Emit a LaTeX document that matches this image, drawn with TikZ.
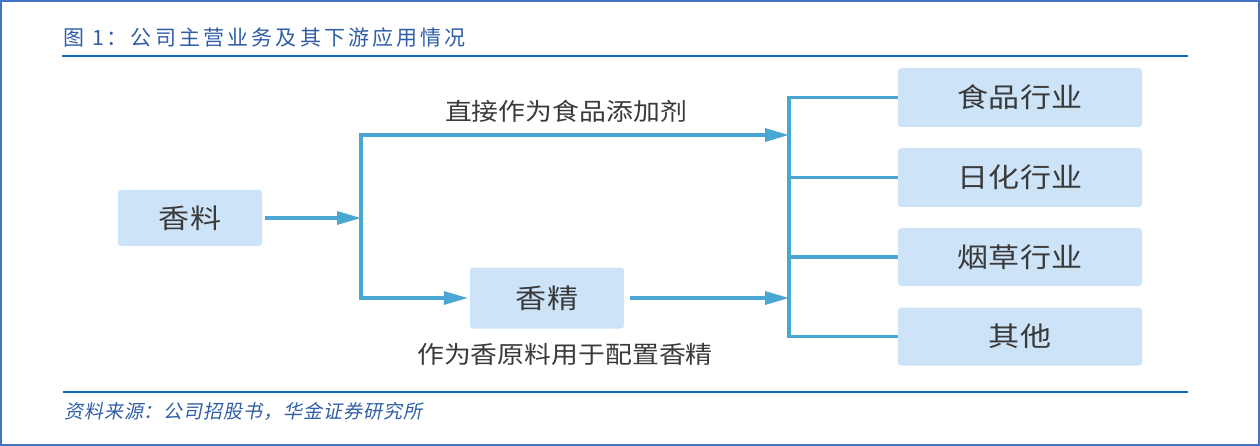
\documentclass[tikz,border=0pt]{standalone}
\usepackage{fontspec}
\usetikzlibrary{arrows.meta}
\newfontfamily\cjkbox[FakeStretch=1.15]{Noto Sans CJK SC}
\newfontfamily\cjklab[FakeStretch=1.12]{Noto Sans CJK SC}
\newfontfamily\cjktitle[LetterSpace=15]{Noto Sans CJK SC}
\newfontfamily\cjkfoot[FakeSlant=0.2,LetterSpace=5]{Noto Sans CJK SC}
\definecolor{framecol}{HTML}{4472C4}
\definecolor{rulecol}{HTML}{0F6CB5}
\definecolor{titlecol}{HTML}{2F5DA6}
\definecolor{linecol}{HTML}{4AA6D2}
\definecolor{boxcol}{HTML}{CCE3F8}
\definecolor{txtcol}{HTML}{3A3A3A}
\begin{document}
\begin{tikzpicture}[x=1pt,y=-1pt,
  box/.style={fill=boxcol,rounded corners=3pt,inner sep=0pt,
    font=\cjkbox\fontsize{27}{30}\selectfont,text=txtcol},
  lab/.style={inner sep=0pt,font=\cjklab\fontsize{24}{28}\selectfont,text=txtcol},
  conn/.style={draw=linecol,line width=3.2pt},
  arr/.style={conn,-{Triangle[length=24pt,width=13pt]}},
  hrule/.style={draw=rulecol,line width=2.2pt}]
\useasboundingbox (0,0) rectangle (1260,446);
\draw[framecol,line width=2pt] (1,1) rectangle (1259,445);
% title and source
\node[anchor=west,inner sep=0pt,text=titlecol,font=\cjktitle\fontsize{21}{24}\selectfont] (title) at (63,37.5) {图 1：公司主营业务及其下游应用情况};
\coordinate (t1) at (62,56); \coordinate (t2) at (1188,56);
\draw[hrule] (t1) -- (t2);
\coordinate (b1) at (63,392); \coordinate (b2) at (1188,392);
\draw[hrule] (b1) -- (b2);
\node[anchor=west,inner sep=0pt,text=titlecol,font=\cjkfoot\fontsize{19}{22}\selectfont] (src) at (64,411) {资料来源：公司招股书，华金证券研究所};
% boxes
\node[box,minimum width=144pt,minimum height=56pt] (xl) at (190,218) {香料};
\node[box,minimum width=154pt,minimum height=61pt] (xj) at (547,298) {香精};
\node[box,minimum width=244pt,minimum height=59pt] (r1) at (1020,97.5) {食品行业};
\node[box,minimum width=244pt,minimum height=59pt] (r2) at (1020,177.5) {日化行业};
\node[box,minimum width=244pt,minimum height=58pt] (r3) at (1020,257) {烟草行业};
\node[box,minimum width=244pt,minimum height=58pt] (r4) at (1020,336.5) {其他};
% labels
\node[lab] (l1) at (566,111) {直接作为食品添加剂};
\node[lab] (l2) at (565,354) {作为香原料用于配置香精};
% left splitter
\coordinate (sa) at (361,135);
\coordinate (sm) at (361,218);
\coordinate (sb) at (361,298);
\coordinate (rv) at (789,218);
\coordinate (ra) at (789,135);
\coordinate (rb) at (789,298);
\draw[arr,shorten <=3pt] (xl.east) -- (sm);
\draw[conn,line cap=rect] (sa) -- (sb);
\draw[arr] (sa) -- (ra);
\draw[arr,shorten >=2pt] (sb) -- (xj.west);
\draw[arr,shorten <=6pt] (xj.east) -- (rb);
% right distributor
\draw[conn,line cap=rect] (r1.west -| rv) -- (r4.west -| rv);
\foreach \r in {r1,r2,r3,r4}{
  \draw[conn] (\r.west -| rv) -- (\r.west);
}
\end{tikzpicture}
\end{document}
